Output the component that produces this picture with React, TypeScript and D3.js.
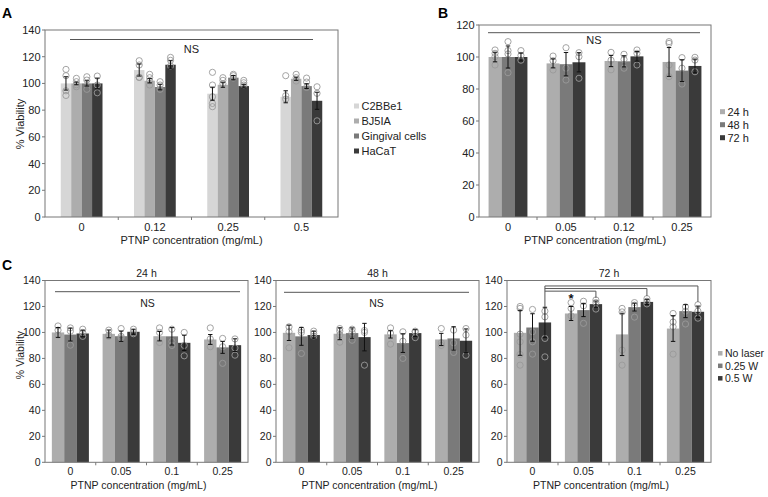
import React from "react";
import * as d3 from "d3";

// ---------- Panel A ----------
const catsA = ["0", "0.12", "0.25", "0.5"];
const seriesA = ["C2BBe1", "BJ5IA", "Gingival cells", "HaCaT"];
const meansA = [
  [100, 110, 92.3, 90],
  [100, 102, 99, 103.5],
  [100, 97.3, 104.3, 98],
  [100, 114, 98, 87],
];
const errsA = [
  [5, 4.5, 4.9, 4.5],
  [1, 1.6, 1.9, 1.2],
  [2, 2.1, 1.6, 1.8],
  [4, 3, 1.3, 6.4],
];
const ptsA = [
  [[110.5, 105.8, 94.5, 91], [117, 113.8, 104.6, 104.5], [108.3, 98.8, 90, 85, 82.6], [105.8, 90.8, 88.3]],
  [[103.8, 101.3, 97.5, 99], [106.8, 104.3, 102, 98.8], [104.3, 102.3, 99.8], [106.8, 104.3, 101.8]],
  [[105, 102.5, 95.6], [101.3, 98.8, 95.6], [106.8, 105.8, 104], [104, 101, 97]],
  [[105.5, 98.8, 93], [119.5, 117.3, 113], [102.3, 100.5, 98.8], [97.5, 92.6, 72]],
];

// ---------- Panel B ----------
const catsB = ["0", "0.05", "0.12", "0.25"];
const seriesB = ["24 h", "48 h", "72 h"];
const meansB = [
  [100, 96, 97.5, 96.9],
  [100, 95.5, 97.3, 91.5],
  [100, 96.7, 100.4, 94.4],
];
const errsB = [
  [3, 2.8, 3.5, 9],
  [6.9, 7.3, 3.5, 6.8],
  [2.5, 6, 3, 4.3],
];
const ptsB = [
  [[104.4, 102.3, 100.2, 95], [100.6, 97.7, 91.9], [102.9, 98, 92], [109.6, 108.5, 95, 87.7]],
  [[109.6, 104, 101.9, 90.2], [105.8, 93, 85.6], [101.7, 98.5, 93], [99.6, 93, 83.1]],
  [[104, 101, 98], [102.7, 100.2, 86.7], [104.4, 102.3, 95], [99.8, 98.1, 90.8]],
];

// ---------- Panel C ----------
const catsC = ["0", "0.05", "0.1", "0.25"];
const seriesC = ["No laser", "0.25 W", "0.5 W"];
const titlesC = ["24 h", "48 h", "72 h"];
const meansC24 = [
  [100, 98.9, 97.1, 94.6],
  [98.4, 97.1, 97, 88.5],
  [99.2, 100.5, 92, 90.2],
];
const errsC24 = [
  [3.8, 3, 3.6, 3.8],
  [5, 4, 6.7, 4.6],
  [2.5, 2, 5.9, 4.9],
];
const ptsC24 = [
  [[105, 101.8, 98], [101.8, 98, 97], [103.5, 100, 92.3], [103.5, 95, 89]],
  [[103.5, 101, 90.2], [103, 95.8, 97], [102.5, 93, 90], [95.4, 89, 76.2]],
  [[102.5, 100, 97], [102.5, 100, 99], [100, 90, 82], [95, 88, 82.5]],
];
const meansC48 = [
  [99.7, 99, 98.5, 94.6],
  [97, 99.5, 91.8, 95.4],
  [98, 96.4, 99.5, 93.6],
];
const errsC48 = [
  [5.9, 4.6, 2.8, 4.7],
  [6.9, 4, 7.2, 9],
  [3, 10.6, 2.6, 9.1],
];
const ptsC48 = [
  [[104.3, 100.5, 88.2], [103, 101, 98, 92.5], [103.5, 99.5, 91], [103, 92, 90]],
  [[101.8, 100, 83.8], [102.5, 94, 100], [100.5, 93.3, 80], [101.8, 92, 84.6]],
  [[101, 99, 97], [101.5, 74.8, 100], [100.5, 96, 101], [103, 98, 82.4]],
];
const meansC72 = [
  [99.7, 114.6, 98.5, 103],
  [103.8, 117.2, 119.5, 116.4],
  [107.7, 121.8, 123.5, 115.9],
];
const errsC72 = [
  [17.3, 5.4, 16.3, 9.9],
  [10.6, 5, 3, 5],
  [11.7, 2.4, 2, 4.4],
];
const ptsC72 = [
  [[120, 118.5, 98.7, 92.8, 83, 74.8], [123, 118.5, 112.8], [118.5, 115.8, 86.4, 74.8], [114.6, 108, 104.3, 83.3]],
  [[117.7, 100.5, 92.8, 83.3], [124, 120.5, 107], [123, 121, 111.8], [119.7, 116.4, 106.5]],
  [[116.4, 112, 95.4, 81.2], [125, 123, 118], [126, 124, 122], [121.3, 116.4, 111]],
];
// significance brackets in 72 h panel: from category 0 (0.5 W) to target categories (0.5 W)
const bracketTargets = [1, 2, 3];
const bracketLevels = [131.8, 133.8, 135.8];
const bracketEnds = [126.5, 128, 123.5];
const bracketStart = 119.5;
const starValue = 126;

const colors4 = ["#d6d6d6", "#adadad", "#7a7a7a", "#3a3a3a"];
const colors3 = ["#adadad", "#7a7a7a", "#3a3a3a"];

const FONT = "Liberation Sans, Arial, Helvetica, sans-serif";
const TXT = "#222";
const AX = "#777";

type PanelProps = {
  x0: number; x1: number; yTop: number; yBot: number; yMax: number;
  cats: string[]; colors: string[]; means: number[][]; errs: number[][]; pts: number[][][];
  groupFrac: number; fs: number; ns?: { x0: number; x1: number; y: number; ty: number };
  title?: string; titleY?: number; xTitleY: number; xTitleDx?: number; tickY: number;
  children?: (x: (c: number, s: number) => number, y: d3.ScaleLinear<number, number>) => React.ReactNode;
};

function Panel(p: PanelProps) {
  const y = d3.scaleLinear().domain([0, p.yMax]).range([p.yBot, p.yTop]);
  const xb = d3.scaleBand<string>().domain(p.cats).range([p.x0, p.x1]).paddingInner(0).paddingOuter(0);
  const gw = xb.bandwidth() * p.groupFrac;
  const xs = d3.scaleBand<number>().domain(d3.range(p.means.length)).range([0, gw]);
  const bw = xs.bandwidth();
  const barX = (c: number, s: number) => (xb(p.cats[c]) as number) + (xb.bandwidth() - gw) / 2 + (xs(s) as number);
  const center = (c: number, s: number) => barX(c, s) + bw / 2;
  const ticks = d3.range(0, p.yMax + 1, 20);
  const cx = (p.x0 + p.x1) / 2;
  return (
    <g>
      {p.means.map((ser, s) =>
        ser.map((v, c) => (
          <rect key={`b${s}-${c}`} x={barX(c, s)} y={y(v)} width={bw} height={y(0) - y(v)} fill={p.colors[s]} />
        ))
      )}
      {p.pts.map((ser, s) =>
        ser.map((arr, c) =>
          arr.map((v, i) => (
            <circle key={`p${s}-${c}-${i}`} cx={center(c, s)} cy={y(v)} r={3.1} fill="none" stroke="#9a9a9a" strokeWidth={0.9} />
          ))
        )
      )}
      {p.means.map((ser, s) =>
        ser.map((v, c) => {
          const e = p.errs[s][c];
          const xc = center(c, s);
          return (
            <g key={`e${s}-${c}`} stroke="#111" strokeWidth={1}>
              <line x1={xc} x2={xc} y1={y(v - e)} y2={y(v + e)} />
              <line x1={xc - 2.2} x2={xc + 2.2} y1={y(v - e)} y2={y(v - e)} />
              <line x1={xc - 2.2} x2={xc + 2.2} y1={y(v + e)} y2={y(v + e)} />
            </g>
          );
        })
      )}
      <rect x={p.x0} y={p.yTop} width={p.x1 - p.x0} height={p.yBot - p.yTop} fill="none" stroke={AX} strokeWidth={1} />
      {ticks.map((t) => (
        <g key={`t${t}`}>
          <line x1={p.x0 - 3} x2={p.x0} y1={y(t)} y2={y(t)} stroke={AX} />
          <text x={p.x0 - 4.5} y={y(t) + p.fs * 0.36} textAnchor="end" fontSize={p.fs} fill={TXT} fontFamily={FONT}>{t}</text>
        </g>
      ))}
      {p.cats.map((c, i) => (
        <g key={`x${c}`}>
          {i > 0 && <line x1={xb(c)} x2={xb(c)} y1={p.yBot} y2={p.yBot + 3} stroke={AX} />}
          <text x={(xb(c) as number) + xb.bandwidth() / 2} y={p.tickY} textAnchor="middle" fontSize={p.fs} fill={TXT} fontFamily={FONT}>{c}</text>
        </g>
      ))}
      <text x={cx + (p.xTitleDx || 0)} y={p.xTitleY} textAnchor="middle" fontSize={p.fs} fill={TXT} fontFamily={FONT}>PTNP concentration (mg/mL)</text>
      {p.ns && (
        <g>
          <line x1={p.ns.x0} x2={p.ns.x1} y1={p.ns.y} y2={p.ns.y} stroke="#555" strokeWidth={1} />
          <text x={(p.ns.x0 + p.ns.x1) / 2} y={p.ns.ty} textAnchor="middle" fontSize={p.fs} fill={TXT} fontFamily={FONT}>NS</text>
        </g>
      )}
      {p.title && (
        <text x={cx} y={p.titleY} textAnchor="middle" fontSize={p.fs} fill={TXT} fontFamily={FONT}>{p.title}</text>
      )}
      {p.children && p.children(center, y)}
    </g>
  );
}

function Legend({ x, y, dy, items, colors, size, fs }: { x: number; y: number; dy: number; items: string[]; colors: string[]; size: number; fs: number }) {
  return (
    <g>
      {items.map((it, i) => (
        <g key={it}>
          <rect x={x} y={y + i * dy - size / 2} width={size} height={size} fill={colors[i]} />
          <text x={x + size + 2.5} y={y + i * dy + fs * 0.36} fontSize={fs} fill={TXT} fontFamily={FONT}>{it}</text>
        </g>
      ))}
    </g>
  );
}

function YLabel({ x, y, fs }: { x: number; y: number; fs: number }) {
  return (
    <text transform={`translate(${x},${y}) rotate(-90)`} textAnchor="middle" fontSize={fs} fill={TXT} fontFamily={FONT}>% Viability</text>
  );
}

export default function App() {
  const cPanels = [
    { x0: 45, x1: 248, means: meansC24, errs: errsC24, pts: ptsC24, ns: { x0: 55, x1: 240, y: 291.7, ty: 306.5 } },
    { x0: 276, x1: 479, means: meansC48, errs: errsC48, pts: ptsC48, ns: { x0: 284, x1: 469, y: 292.3, ty: 307 } },
    { x0: 507, x1: 711, means: meansC72, errs: errsC72, pts: ptsC72, ns: undefined },
  ];
  return (
    <svg width={768} height={497} style={{ position: "absolute", left: 0, top: 0, background: "#fff" }}>
      <rect width={768} height={497} fill="#fff" />
      {/* A */}
      <text x={2} y={18} fontSize={14} fontWeight="bold" fill="#000" fontFamily={FONT}>A</text>
      <Panel x0={45} x1={338} yTop={30} yBot={217} yMax={140} cats={catsA} colors={colors4}
        means={meansA} errs={errsA} pts={ptsA} groupFrac={0.57} fs={11}
        ns={{ x0: 70, x1: 313, y: 39.5, ty: 52.5 }} xTitleY={244} tickY={230.5} />
      <YLabel x={24} y={124} fs={11} />
      <Legend x={354} y={106} dy={15} items={seriesA} colors={colors4} size={5} fs={11} />
      {/* B */}
      <text x={438} y={18} fontSize={14} fontWeight="bold" fill="#000" fontFamily={FONT}>B</text>
      <Panel x0={479} x1={711} yTop={25} yBot={217} yMax={120} cats={catsB} colors={colors3}
        means={meansB} errs={errsB} pts={ptsB} groupFrac={0.67} fs={11}
        ns={{ x0: 488, x1: 700, y: 32.7, ty: 44 }} xTitleY={244} tickY={230.5} />
      <Legend x={720} y={111.7} dy={13} items={seriesB} colors={colors3} size={5} fs={11} />
      {/* C */}
      <text x={2} y={270} fontSize={14} fontWeight="bold" fill="#000" fontFamily={FONT}>C</text>
      {cPanels.map((cp, i) => (
        <Panel key={i} x0={cp.x0} x1={cp.x1} yTop={280.5} yBot={462.3} yMax={140} cats={catsC} colors={colors3}
          means={cp.means} errs={cp.errs} pts={cp.pts} groupFrac={0.73} fs={10.5}
          ns={cp.ns} title={titlesC[i]} titleY={277} xTitleY={489} xTitleDx={-8} tickY={475}>
          {i === 2
            ? (center, y) => (
                <g stroke="#555" strokeWidth={1} fill="none">
                  <line x1={center(0, 2)} x2={center(0, 2)} y1={y(bracketStart)} y2={y(d3.max(bracketLevels) as number)} />
                  {bracketTargets.map((t, k) => (
                    <g key={k}>
                      <line x1={center(0, 2)} x2={center(t, 2)} y1={y(bracketLevels[k])} y2={y(bracketLevels[k])} />
                      <line x1={center(t, 2)} x2={center(t, 2)} y1={y(bracketLevels[k])} y2={y(bracketEnds[k])} />
                    </g>
                  ))}
                  <text x={center(1, 0)} y={y(starValue) + 4} textAnchor="middle" fontSize={13} fontWeight="bold" fill="#111" stroke="none" fontFamily={FONT}>*</text>
                </g>
              )
            : undefined}
        </Panel>
      ))}
      <YLabel x={24} y={355} fs={10.5} />
      <Legend x={718} y={353.3} dy={12.5} items={seriesC} colors={colors3} size={4.5} fs={10.5} />
    </svg>
  );
}
